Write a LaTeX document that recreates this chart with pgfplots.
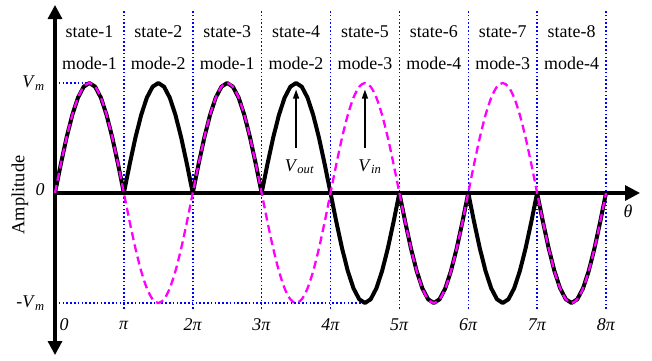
\documentclass[border=0pt]{standalone}
\usepackage{fontspec}
\setmainfont{Liberation Serif}
\usepackage{pgfplots}
\usepackage{pgfplotstable}
\pgfplotsset{compat=1.18}
\usetikzlibrary{arrows.meta}

\definecolor{vinmag}{RGB}{255,0,255}
\definecolor{gridblue}{RGB}{0,0,255}

% theta in degrees, input voltage and output voltage (per unit of V_m)
\pgfplotstableread{
deg vin vout
0 0 0
15 0.2588 0.2588
30 0.5 0.5
45 0.7071 0.7071
60 0.8660 0.8660
75 0.9659 0.9659
90 1 1
105 0.9659 0.9659
120 0.8660 0.8660
135 0.7071 0.7071
150 0.5 0.5
165 0.2588 0.2588
180 0 0
195 -0.2588 0.2588
210 -0.5 0.5
225 -0.7071 0.7071
240 -0.8660 0.8660
255 -0.9659 0.9659
270 -1 1
285 -0.9659 0.9659
300 -0.8660 0.8660
315 -0.7071 0.7071
330 -0.5 0.5
345 -0.2588 0.2588
360 0 0
375 0.2588 0.2588
390 0.5 0.5
405 0.7071 0.7071
420 0.8660 0.8660
435 0.9659 0.9659
450 1 1
465 0.9659 0.9659
480 0.8660 0.8660
495 0.7071 0.7071
510 0.5 0.5
525 0.2588 0.2588
540 0 0
555 -0.2588 0.2588
570 -0.5 0.5
585 -0.7071 0.7071
600 -0.8660 0.8660
615 -0.9659 0.9659
630 -1 1
645 -0.9659 0.9659
660 -0.8660 0.8660
675 -0.7071 0.7071
690 -0.5 0.5
705 -0.2588 0.2588
720 0 0
735 0.2588 -0.2588
750 0.5 -0.5
765 0.7071 -0.7071
780 0.8660 -0.8660
795 0.9659 -0.9659
810 1 -1
825 0.9659 -0.9659
840 0.8660 -0.8660
855 0.7071 -0.7071
870 0.5 -0.5
885 0.2588 -0.2588
900 0 0
915 -0.2588 -0.2588
930 -0.5 -0.5
945 -0.7071 -0.7071
960 -0.8660 -0.8660
975 -0.9659 -0.9659
990 -1 -1
1005 -0.9659 -0.9659
1020 -0.8660 -0.8660
1035 -0.7071 -0.7071
1050 -0.5 -0.5
1065 -0.2588 -0.2588
1080 0 0
1095 0.2588 -0.2588
1110 0.5 -0.5
1125 0.7071 -0.7071
1140 0.8660 -0.8660
1155 0.9659 -0.9659
1170 1 -1
1185 0.9659 -0.9659
1200 0.8660 -0.8660
1215 0.7071 -0.7071
1230 0.5 -0.5
1245 0.2588 -0.2588
1260 0 0
1275 -0.2588 -0.2588
1290 -0.5 -0.5
1305 -0.7071 -0.7071
1320 -0.8660 -0.8660
1335 -0.9659 -0.9659
1350 -1 -1
1365 -0.9659 -0.9659
1380 -0.8660 -0.8660
1395 -0.7071 -0.7071
1410 -0.5 -0.5
1425 -0.2588 -0.2588
1440 0 0
}\wavetable

\newcommand{\bigfont}{\fontsize{18}{20}\selectfont}

\begin{document}
\begin{tikzpicture}
\begin{axis}[
  scale only axis,
  width=652bp, height=361bp,
  xmin=-143.74, xmax=1560.2,
  ymin=-1.5273, ymax=1.7545,
  hide axis,
  clip=false,
]
  % keep the full frame as bounding box
  \path (rel axis cs:0,0) rectangle (rel axis cs:1,1);

  % state boundaries
  \foreach \k in {180,360,540,720,900,1080,1260,1440}{
    \edef\temp{\noexpand\draw[gridblue, line width=1.5bp, dash pattern=on 1.6bp off 2.2bp]
      (axis cs:\k,-1.055) -- (axis cs:\k,1.664);}
    \temp
  }
  \draw[gridblue, line width=1.5bp, dash pattern=on 1.6bp off 2.2bp]
    (axis cs:0,1) -- (axis cs:90,1);
  \draw[gridblue, line width=1.5bp, dash pattern=on 1.6bp off 2.2bp]
    (axis cs:0,-1) -- (axis cs:810,-1);

  % axes
  \draw[line width=3.2bp, {Triangle[width=14bp,length=14bp]}-{Triangle[width=14bp,length=14bp]}]
    (axis cs:0,-1.473) -- (axis cs:0,1.709);
  \draw[line width=3.2bp, -{Triangle[width=15bp,length=15bp]}]
    (axis cs:0,0) -- (axis cs:1528.9,0);

  % output voltage
  \addplot[black, line width=4bp, line join=round] table[x=deg, y=vout] {\wavetable};
  % input voltage
  \addplot[vinmag, line width=2.3bp, dash pattern=on 8bp off 4.5bp, smooth] table[x=deg, y=vin] {\wavetable};

  % state and mode labels
  \node[font=\bigfont] at (axis cs:90,1.4636) {state-1};
  \node[font=\bigfont] at (axis cs:270,1.4636) {state-2};
  \node[font=\bigfont] at (axis cs:450,1.4636) {state-3};
  \node[font=\bigfont] at (axis cs:630,1.4636) {state-4};
  \node[font=\bigfont] at (axis cs:810,1.4636) {state-5};
  \node[font=\bigfont] at (axis cs:990,1.4636) {state-6};
  \node[font=\bigfont] at (axis cs:1170,1.4636) {state-7};
  \node[font=\bigfont] at (axis cs:1350,1.4636) {state-8};
  \node[font=\bigfont] at (axis cs:90,1.18) {mode-1};
  \node[font=\bigfont] at (axis cs:270,1.18) {mode-2};
  \node[font=\bigfont] at (axis cs:450,1.18) {mode-1};
  \node[font=\bigfont] at (axis cs:630,1.18) {mode-2};
  \node[font=\bigfont] at (axis cs:810,1.18) {mode-3};
  \node[font=\bigfont] at (axis cs:990,1.18) {mode-4};
  \node[font=\bigfont] at (axis cs:1170,1.18) {mode-3};
  \node[font=\bigfont] at (axis cs:1350,1.18) {mode-4};

  % curve annotations
  \draw[line width=1.3bp, -{Triangle[width=6bp,length=9bp]}]
    (axis cs:630,0.41) -- (axis cs:630,0.94);
  \draw[line width=1.3bp, -{Triangle[width=6bp,length=9bp]}]
    (axis cs:810,0.41) -- (axis cs:810,0.94);
  \node[font=\bigfont] at (axis cs:639,0.24) {\textit{V}\textsubscript{\textit{out}}};
  \node[font=\bigfont] at (axis cs:823,0.24) {\textit{V}\textsubscript{\textit{in}}};

  % vertical axis labels
  \node[font=\bigfont, anchor=east] at (axis cs:-18,1) {\textit{V}\textsubscript{\textit{m}}};
  \node[font=\bigfont, anchor=east] at (axis cs:-18,0.03) {\textit{0}};
  \node[font=\bigfont, anchor=east] at (axis cs:-18,-1) {-\textit{V}\textsubscript{\textit{m}}};
  \node[font=\fontsize{18.5}{20}\selectfont, rotate=90] at (axis cs:-91.5,-0.018) {Amplitude};

  % horizontal axis labels
  \node[font=\bigfont] at (axis cs:23.5,-1.2) {\textit{0}};
  \node[font=\bigfont] at (axis cs:180,-1.2) {\textit{π}};
  \node[font=\bigfont] at (axis cs:360,-1.2) {\textit{2π}};
  \node[font=\bigfont] at (axis cs:540,-1.2) {\textit{3π}};
  \node[font=\bigfont] at (axis cs:720,-1.2) {\textit{4π}};
  \node[font=\bigfont] at (axis cs:900,-1.2) {\textit{5π}};
  \node[font=\bigfont] at (axis cs:1080,-1.2) {\textit{6π}};
  \node[font=\bigfont] at (axis cs:1260,-1.2) {\textit{7π}};
  \node[font=\bigfont] at (axis cs:1440,-1.2) {\textit{8π}};
  \node[font=\bigfont] at (axis cs:1497.5,-0.17) {\textit{θ}};
\end{axis}
\end{tikzpicture}
\end{document}
